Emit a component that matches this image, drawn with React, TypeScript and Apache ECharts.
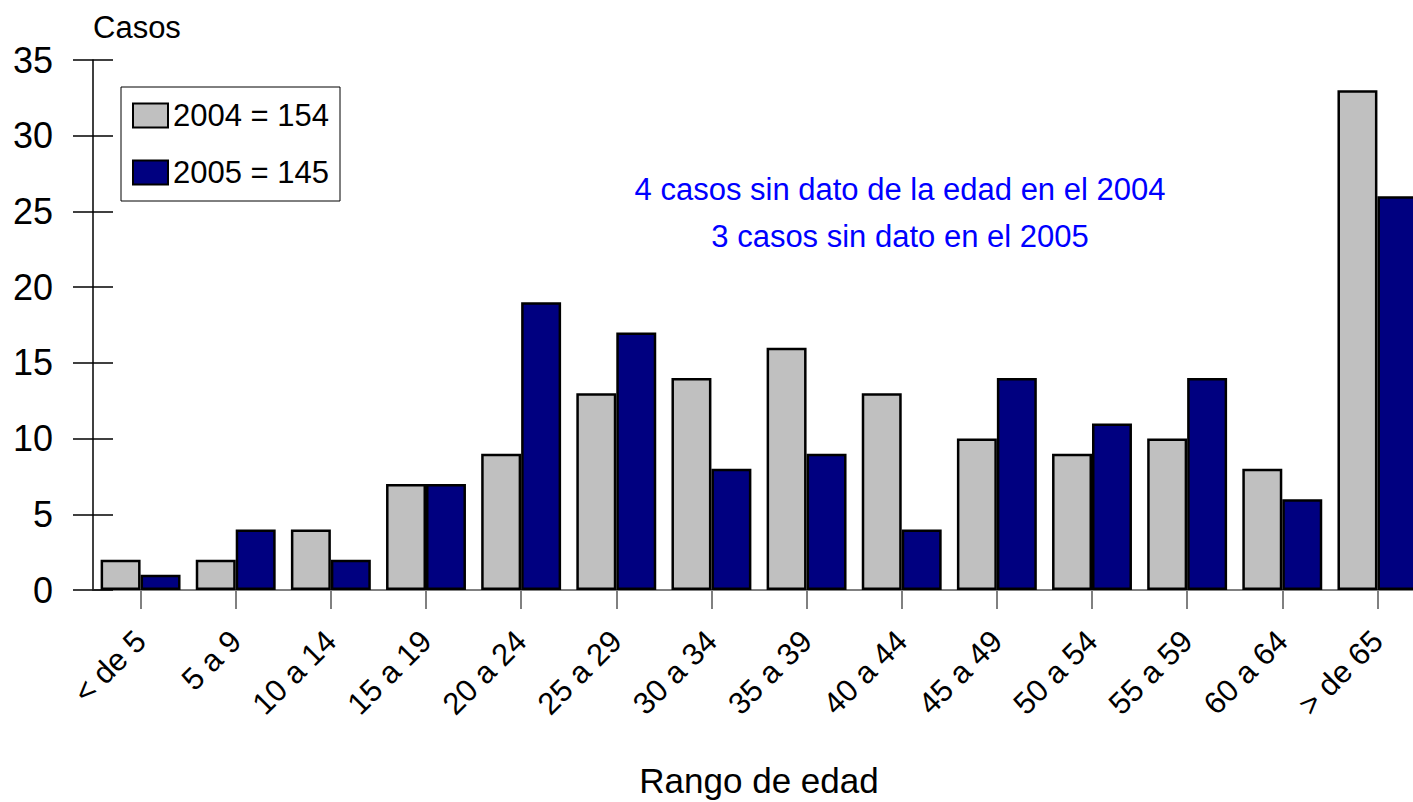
import React, { useEffect, useRef } from "react";
import * as echarts from "echarts";

const categories = ["< de 5", "5 a 9", "10 a 14", "15 a 19", "20 a 24", "25 a 29", "30 a 34", "35 a 39", "40 a 44", "45 a 49", "50 a 54", "55 a 59", "60 a 64", "> de 65"];
const cases2004 = [2, 2, 4, 7, 9, 13, 14, 16, 13, 10, 9, 10, 8, 33];
const cases2005 = [1, 4, 2, 7, 19, 17, 8, 9, 4, 14, 11, 14, 6, 26];
const seriesNames = ["2004 = 154", "2005 = 145"];
const yMin = 0;
const yMax = 35;
const yInterval = 5;
const yAxisTitle = "Casos";
const xAxisTitle = "Rango de edad";
const noteLines = ["4 casos sin dato de la edad en el 2004", "3 casos sin dato en el 2005"];

const FONT = "'Liberation Sans', Arial, Helvetica, sans-serif";

export default function App() {
  const ref = useRef<HTMLDivElement>(null);
  useEffect(() => {
    if (!ref.current) return;
    const chart = echarts.init(ref.current, null, { renderer: "svg" });
    const tickStyle = { color: "#000", width: 1.5 };
    chart.setOption({
      animation: false,
      backgroundColor: "#fff",
      textStyle: { fontFamily: FONT },
      grid: { left: 93, top: 60, width: 1332, height: 530, outerBoundsMode: "none", containLabel: false },
      legend: {
        orient: "vertical",
        left: 121,
        top: 87,
        padding: [13, 11, 13, 11],
        borderColor: "#000",
        borderWidth: 1,
        backgroundColor: "#fff",
        itemWidth: 35,
        itemHeight: 24,
        itemGap: 26,
        icon: "rect",
        textStyle: { fontSize: 31, color: "#000", fontFamily: FONT },
        data: seriesNames,
      },
      xAxis: {
        type: "category",
        data: categories,
        name: xAxisTitle,
        nameLocation: "middle",
        nameGap: 173,
        nameMoveOverlap: false,
        nameTextStyle: { fontSize: 35, color: "#000", fontFamily: FONT },
        axisLine: { show: true, lineStyle: { color: "#808080", width: 2 } },
        axisTick: { show: true, alignWithLabel: true, length: 19, lineStyle: { color: "#808080", width: 2 } },
        axisLabel: { rotate: 45, fontSize: 31, color: "#000", margin: 46, interval: 0, fontFamily: FONT },
        splitLine: { show: false },
      },
      yAxis: [
        {
          type: "value",
          min: yMin,
          max: yMax,
          interval: yInterval,
          name: yAxisTitle,
          nameLocation: "end",
          nameGap: 17,
          nameTextStyle: { fontSize: 31, color: "#000", align: "left", verticalAlign: "bottom", fontFamily: FONT },
          axisLine: { show: true, lineStyle: tickStyle },
          axisTick: { show: true, length: 20, lineStyle: tickStyle },
          axisLabel: { fontSize: 36, color: "#000", margin: 40, fontFamily: FONT },
          splitLine: { show: false },
        },
        {
          type: "value",
          min: yMin,
          max: yMax,
          interval: yInterval,
          position: "left",
          axisLine: { show: false },
          axisTick: { show: true, inside: true, length: 20, lineStyle: tickStyle },
          axisLabel: { show: false },
          splitLine: { show: false },
        },
      ],
      series: [
        {
          name: seriesNames[0],
          type: "bar",
          data: cases2004,
          barWidth: "42%",
          barGap: "0%",
          itemStyle: { color: "#c0c0c0", borderColor: "#000", borderWidth: 2.5 },
        },
        {
          name: seriesNames[1],
          type: "bar",
          data: cases2005,
          barWidth: "42%",
          barGap: "0%",
          itemStyle: { color: "#000080", borderColor: "#000", borderWidth: 2.5 },
        },
      ],
      graphic: [
        {
          type: "text",
          x: 900,
          y: 166,
          style: {
            text: noteLines.join("\n"),
            fill: "#0000ff",
            fontSize: 31,
            fontFamily: FONT,
            align: "center",
            verticalAlign: "top",
            lineHeight: 47,
          },
        },
      ],
    });
    return () => chart.dispose();
  }, []);
  return (
    <div style={{ position: "fixed", left: 0, top: 0, width: 1413, height: 802, overflow: "hidden", background: "#fff" }}>
      <div ref={ref} style={{ width: 1430, height: 802 }} />
    </div>
  );
}
